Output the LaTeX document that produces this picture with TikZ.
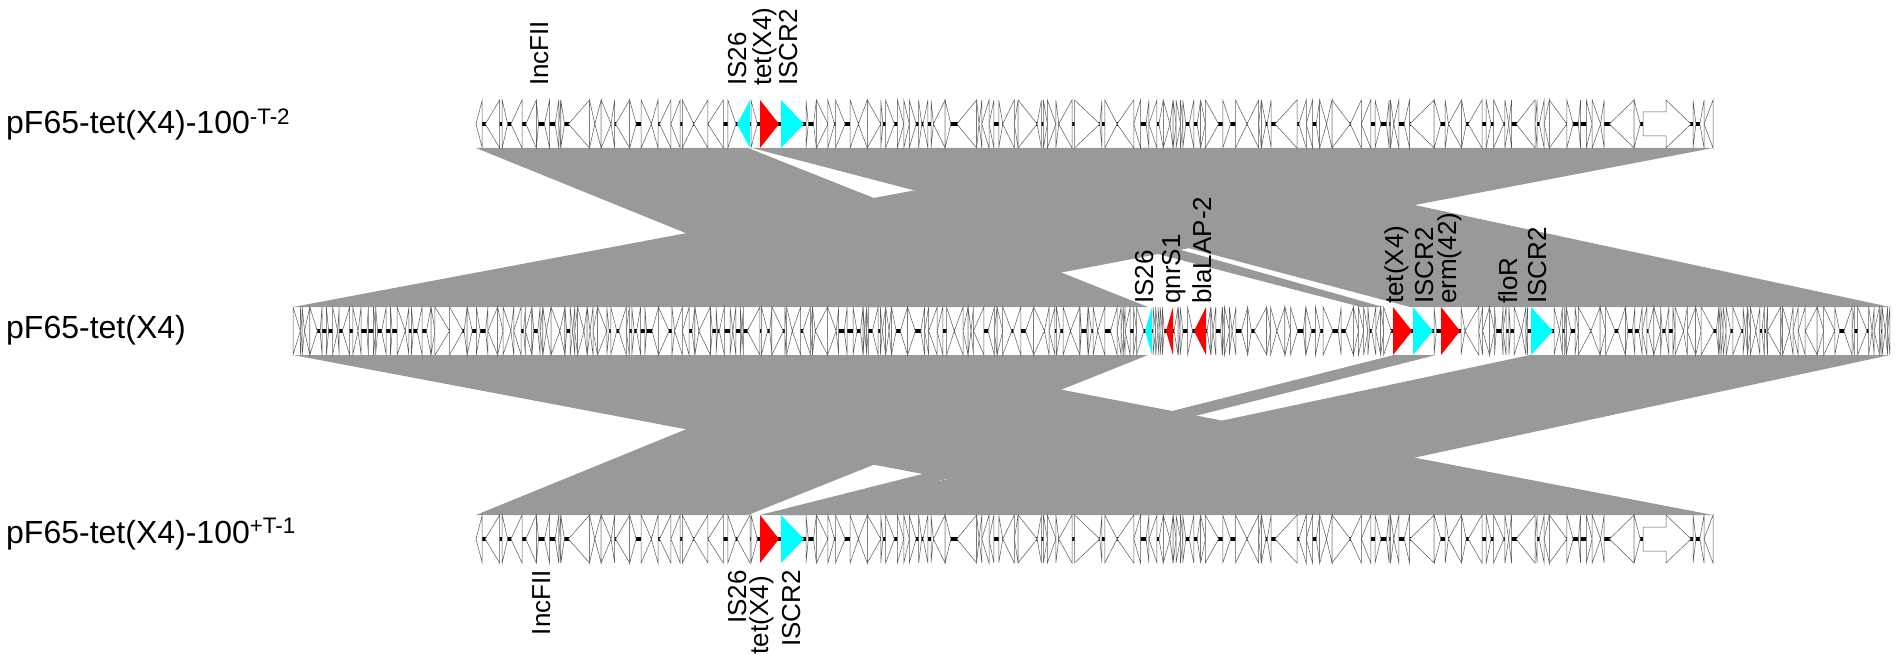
\documentclass[tikz,border=0pt]{standalone}
\usepackage{fontspec}
\setmainfont{Liberation Sans}
\definecolor{hitgray}{RGB}{153,153,153}
\definecolor{genered}{RGB}{255,0,0}
\definecolor{genecyan}{RGB}{0,255,255}
\tikzset{
  hit/.style={fill=hitgray, draw=none},
  gene/.style={fill=white, draw=black!65, line width=0.5pt, line join=miter},
  redgene/.style={fill=genered, draw=none},
  cyangene/.style={fill=genecyan, draw=none},
  backbone/.style={line width=4.5pt, black},
  tracklabel/.style={font=\fontsize{32}{38}\selectfont, anchor=base west, inner sep=0pt},
  genelabel/.style={font=\fontsize{26}{30}\selectfont, rotate=90, inner sep=0pt},
}
% one gene arrow: #1 from, #2 to, #3 centre y, #4 direction (1 forward, 0 reverse), #5 style
\newcommand\drawgene[5]{%
  \pgfmathsetmacro\gl{#2-#1}%
  \ifnum#4=1
    \pgfmathsetmacro\gh{#2-25}%
    \ifdim\gl pt>26pt
      \path[#5] (#1,#3-12) -- (\gh,#3-12) -- (\gh,#3-24) -- (#2,#3) -- (\gh,#3+24) -- (\gh,#3+12) -- (#1,#3+12) -- cycle;
    \else
      \path[#5] (#1,#3-24) -- (#2,#3) -- (#1,#3+24) -- cycle;
    \fi
  \else
    \pgfmathsetmacro\gh{#1+25}%
    \ifdim\gl pt>26pt
      \path[#5] (#2,#3-12) -- (\gh,#3-12) -- (\gh,#3-24) -- (#1,#3) -- (\gh,#3+24) -- (\gh,#3+12) -- (#2,#3+12) -- cycle;
    \else
      \path[#5] (#2,#3-24) -- (#1,#3) -- (#2,#3+24) -- cycle;
    \fi
  \fi
}
% a run of plain genes: #1 from, #2 to, #3 centre y, #4 min length, #5 max length
\newcommand\genefill[5]{%
  \pgfmathsetmacro\gx{#1}%
  \loop
    \pgfmathsetmacro\glen{#4+(#5-#4)*rnd*rnd}%
    \pgfmathsetmacro\gnext{min(\gx+\glen,#2)}%
    \pgfmathrandominteger\gdir{0}{1}%
    \drawgene{\gx}{\gnext}{#3}{\gdir}{gene}%
    \pgfmathsetmacro\gx{\gnext+(rnd<0.35 ? 1+5*rnd : 0)}%
    \pgfmathtruncatemacro\gcont{\gx < #2-1.5}%
  \ifnum\gcont=1 \repeat
}
% the short plasmid track (top and bottom), centre y #1, IS26 style #2
\newcommand\shorttrack[2]{%
  \draw[backbone] (476,#1) -- (1713,#1);
  \pgfmathsetseed{4242}%
  \genefill{476}{736}{#1}{2}{28}%
  \drawgene{737}{750}{#1}{0}{#2}%
  \genefill{751}{759}{#1}{2}{9}%
  \drawgene{760}{779}{#1}{1}{redgene}%
  \drawgene{781}{804}{#1}{1}{cyangene}%
  \genefill{806}{1641}{#1}{2}{28}%
  \drawgene{1643}{1691}{#1}{1}{gene}%
  \genefill{1693}{1713}{#1}{2}{12}%
}
\begin{document}
\begin{tikzpicture}[x=1pt,y=-1pt]
\useasboundingbox (0,0) rectangle (1902,655);

% ---- similarity blocks, top / middle
\path[hit] (476,148) -- (748,148) -- (1148,307) -- (868,307) -- cycle;
\path[hit] (1140,148) -- (1713,148) -- (881,307) -- (293,307) -- cycle;
\path[hit] (812,148) -- (1149,148) -- (1890,307) -- (1410,307) -- cycle;
\path[hit] (752,148) -- (820,148) -- (1383,307) -- (1361,307) -- cycle;

% ---- similarity blocks, middle / bottom
\path[hit] (868,355) -- (1148,355) -- (748,515) -- (476,515) -- cycle;
\path[hit] (293,355) -- (881,355) -- (1713,515) -- (1140,515) -- cycle;
\path[hit] (1530,355) -- (1890,355) -- (1149,515) -- (779,515) -- cycle;
\path[hit] (1394,355) -- (1436,355) -- (804,515) -- (760,515) -- cycle;

% ---- top track
\shorttrack{124}{cyangene}

% ---- middle track
\draw[backbone] (293,331) -- (1890,331);
\pgfmathsetseed{777}
\genefill{293}{1144}{331}{1.5}{17}
\drawgene{1145}{1152}{331}{0}{cyangene}
\genefill{1153}{1165}{331}{2}{8}
\drawgene{1166}{1173}{331}{0}{redgene}
\genefill{1174}{1193}{331}{2}{10}
\drawgene{1194}{1206}{331}{0}{redgene}
\genefill{1207}{1392}{331}{1.5}{17}
\drawgene{1393}{1412}{331}{1}{redgene}
\drawgene{1413}{1433}{331}{1}{cyangene}
\genefill{1434}{1440}{331}{2}{7}
\drawgene{1441}{1460}{331}{1}{redgene}
\genefill{1461}{1530}{331}{1.5}{17}
\drawgene{1531}{1553}{331}{1}{cyangene}
\genefill{1554}{1890}{331}{1.5}{17}

% ---- bottom track
\shorttrack{539}{gene}

% ---- track names
\node[tracklabel] (ntop) at (6,134) {pF65-tet(X4)-100\textsuperscript{-T-2}};
\node[tracklabel] (nmid) at (6,338) {pF65-tet(X4)};
\node[tracklabel] (nbot) at (6,543) {pF65-tet(X4)-100\textsuperscript{+T-1}};

% ---- gene names, top
\node[genelabel, anchor=base west] (t1) at (548,86) {IncFII};
\node[genelabel, anchor=base west] (t2) at (746,86) {IS26};
\node[genelabel, anchor=base west] (t3) at (771,86) {tet(X4)};
\node[genelabel, anchor=base west] (t4) at (797,86) {ISCR2};

% ---- gene names, middle
\node[genelabel, anchor=base west] (m1) at (1153,304) {IS26};
\node[genelabel, anchor=base west] (m2) at (1180,304) {qnrS1};
\node[genelabel, anchor=base west] (m3) at (1211,304) {blaLAP-2};
\node[genelabel, anchor=base west] (m4) at (1403,304) {tet(X4)};
\node[genelabel, anchor=base west] (m5) at (1433,304) {ISCR2};
\node[genelabel, anchor=base west] (m6) at (1456,304) {erm(42)};
\node[genelabel, anchor=base west] (m7) at (1517,304) {floR};
\node[genelabel, anchor=base west] (m8) at (1546,304) {ISCR2};

% ---- gene names, bottom
\node[genelabel, anchor=base east] (b1) at (550,570) {IncFII};
\node[genelabel, anchor=base east] (b2) at (746,570) {IS26};
\node[genelabel, anchor=base east] (b3) at (768,576) {tet(X4)};
\node[genelabel, anchor=base east] (b4) at (800,570) {ISCR2};
\end{tikzpicture}
\end{document}
